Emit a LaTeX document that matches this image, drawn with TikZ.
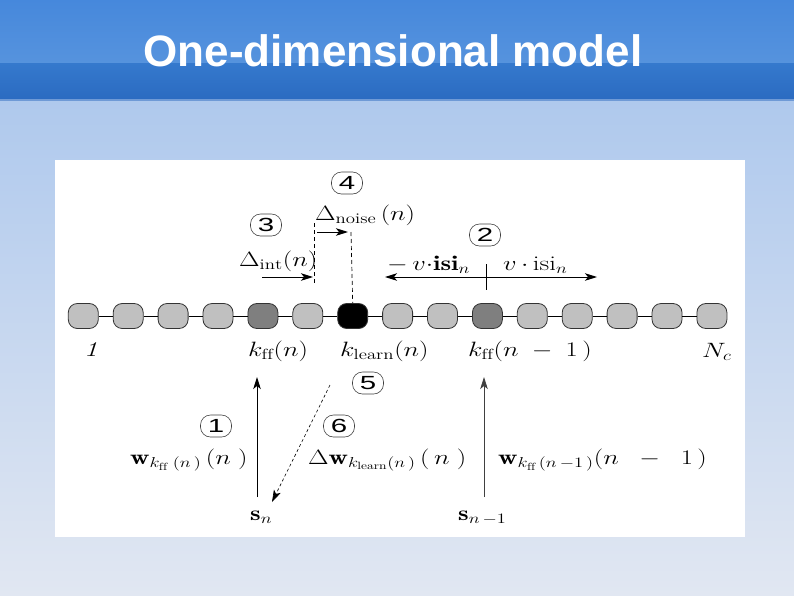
\documentclass[tikz,border=0pt]{standalone}
\usepackage{graphicx}
\usepackage{fontspec}
\newfontfamily\sansf{Liberation Sans}
\usetikzlibrary{arrows.meta}
\definecolor{bandA}{HTML}{4688DC}
\definecolor{bandB}{HTML}{5693DD}
\definecolor{bandC}{HTML}{3579CD}
\definecolor{bandD}{HTML}{2B6BC1}
\definecolor{bandL}{HTML}{6F9AD6}
\definecolor{bgtop}{HTML}{AFC9ED}
\definecolor{bgbot}{HTML}{E1E7F2}
\definecolor{lg}{HTML}{C0C0C0}
\definecolor{dg}{HTML}{7F7F7F}
\definecolor{bk}{HTML}{000000}
\newcommand{\wideT}[1]{\scalebox{1.28}[1]{#1}}
\newcommand{\wideD}[1]{\scalebox{1.55}[1]{#1}}
\begin{document}
\begin{tikzpicture}[x=1pt,y=-1pt,
  cell/.style={draw=black!80, line width=0.8pt, rounded corners=9pt, minimum width=30pt, minimum height=25pt, inner sep=0pt},
  circnum/.style={draw=black!75, line width=0.6pt, rounded corners=10pt, minimum width=31pt, minimum height=22pt, inner sep=0pt, font=\sansf\fontsize{19}{19}\selectfont},
  lab/.style={inner sep=0pt, anchor=base west, font=\fontsize{21}{24}\selectfont},
  tip/.tip={Stealth[length=12pt,width=7.5pt,inset=3pt]},
  arr/.style={line width=0.9pt, -tip},
  garr/.style={line width=0.8pt, draw=black!75, -tip},
  dline/.style={line width=0.7pt, dash pattern=on 4pt off 3pt},
  darr/.style={line width=0.6pt, dash pattern=on 3pt off 2.5pt, -tip}
]
\useasboundingbox (0,0) rectangle (794,595);
% background
\shade[top color=bgtop, bottom color=bgbot] (0,100) rectangle (794,595);
\shade[top color=bandA, bottom color=bandB] (0,0) rectangle (794,63);
\shade[top color=bandC, bottom color=bandD] (0,63) rectangle (794,99);
\fill[bandL] (0,99) rectangle (794,101);
\node[font=\sansf\bfseries\fontsize{44}{44}\selectfont, text=white, inner sep=0pt, anchor=base] (title) at (393,66) {One-dimensional model};
% white panel
\fill[white] (55,160) rectangle (745,537);

% chain of cells
\foreach \i/\f in {0/lg,1/lg,2/lg,3/lg,4/dg,5/lg,6/bk,7/lg,8/lg,9/dg,10/lg,11/lg,12/lg,13/lg,14/lg}
  \node[cell, fill=\f] (c\i) at ({83.3+44.9*\i},316) {};
\foreach \i [evaluate=\i as \j using int(\i+1)] in {0,...,13}
  \draw[line width=0.8pt] (c\i) -- (c\j);

% cell labels
\node[lab] (one) at (84,356) {\wideT{\textit{1}}};
\node[lab] (kff) at (248,356) {\wideT{$k_{\mathrm{ff}}(n)$}};
\node[lab] (kl) at (340,356) {\wideT{$k_{\mathrm{learn}}(n)$}};
\node[lab] (kffm) at (468,356) {\wideT{$k_{\mathrm{ff}}(n\;-\;1\,)$}};
\node[lab] (nc) at (702,357) {\wideT{$N_c$}};

% circled numbers
\node[circnum] (n4) at (347,183) {\wideD{4}};
\node[circnum] (n3) at (266,225) {\wideD{3}};
\node[circnum] (n2) at (485,235) {\wideD{2}};
\node[circnum] (n5) at (368,383) {\wideD{5}};
\node[circnum] (n1) at (216,426) {\wideD{1}};
\node[circnum] (n6) at (339,426) {\wideD{6}};

% delta labels and arrows
\node[lab] (dnoise) at (315,220) {\wideT{$\Delta_{\mathrm{noise}}\,(n)$}};
\node[lab] (dint) at (239,266) {\wideT{$\Delta_{\mathrm{int}}(n)$}};
\coordinate (d1t) at (314,223);
\coordinate (d1b) at (314,283);
\draw[dline] (d1t) -- (d1b);
\coordinate (d2t) at (351,232);
\draw[dline] (d2t) -- (c6.north);
\coordinate (ai1) at (262,277);
\coordinate (ai2) at (313,277);
\draw[arr] (ai1) -- (ai2);
\coordinate (an1) at (317,232);
\coordinate (an2) at (348,232);
\draw[arr] (an1) -- (an2);

% isi double arrow
\coordinate (dl) at (385,277);
\coordinate (dr) at (597,277);
\draw[line width=0.9pt, tip-tip] (dl) -- (dr);
\coordinate (tk1) at (486,264);
\coordinate (tk2) at (486,290);
\draw[line width=0.8pt] (tk1) -- (tk2);
\node[lab] (isil) at (387,270) {\wideT{$-\,v{\cdot}\mathbf{isi}_n$}};
\node[lab] (isir) at (503,270) {\wideT{$v\,{\cdot}\,\mathrm{isi}_n$}};

% lower part
\node[lab] (sn) at (250,520) {\wideT{$\mathbf{s}_n$}};
\node[lab] (snm) at (458,520) {\wideT{$\mathbf{s}_{n\,-1}$}};
\node[lab] (w1) at (130,464) {\wideT{$\mathbf{w}_{k_{\mathrm{ff}}\;(n\,)}\,(n\;)$}};
\node[lab] (dw) at (308,464) {\wideT{$\Delta\mathbf{w}_{k_{\mathrm{learn}}(n\,)}\,(\,n\;)$}};
\node[lab] (w2) at (498,464) {\wideT{$\mathbf{w}_{k_{\mathrm{ff}}\,(n\,-1\,)}(n\;\;-\;\;1\,)$}};

\coordinate (a1b) at (257,497);
\coordinate (a1t) at (257,377);
\draw[arr] (a1b) -- (a1t);
\coordinate (a2b) at (484,497);
\coordinate (a2t) at (484,377);
\draw[garr] (a2b) -- (a2t);
\coordinate (a3s) at (330,385);
\coordinate (a3e) at (272,502);
\draw[darr] (a3s) -- (a3e);
\end{tikzpicture}
\end{document}
